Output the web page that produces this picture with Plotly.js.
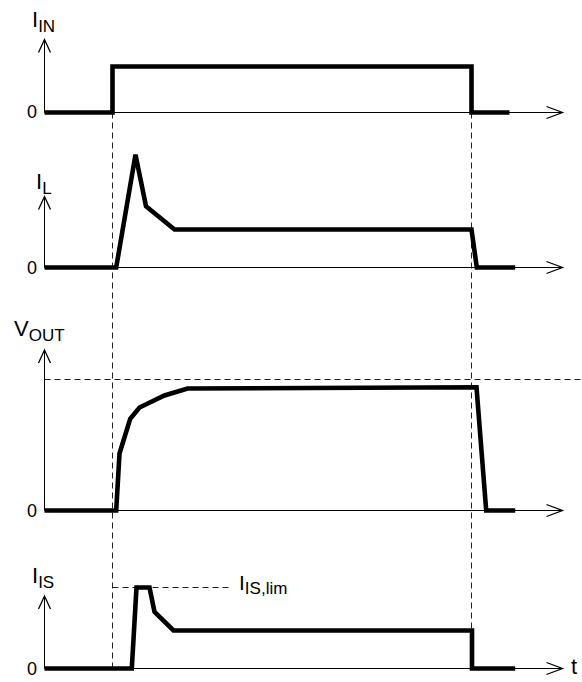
<!DOCTYPE html>
<html><head><meta charset="utf-8">
<script src="https://cdn.plot.ly/plotly-3.0.1.min.js"></script>
<style>html,body{margin:0;padding:0;background:#fff}</style>
</head><body><div id="chart" style="width:582px;height:682px"></div>
<script>
// ---- data (time in arbitrary units, each signal normalised) ----
const tIN  = [0, 6.8, 6.8, 42.7, 42.7, 46.5];
const iIN  = [0, 0, 1, 1, 0, 0];
const tL   = [0, 7.17, 9.1, 10.15, 13.0, 42.7, 43.23, 47.07];
const iL   = [0, 0, 2.97, 1.61, 1, 1, 0, 0];
const tOUT = [0, 7.17, 7.5, 8.57, 9.5, 12.0, 14.3, 43.2, 44.17, 47.07];
const vOUT = [0, 0, 0.435, 0.70, 0.786, 0.878, 0.931, 0.941, 0, 0];
const tIS  = [0, 8.73, 9.2, 10.5, 11.0, 12.9, 42.75, 42.75, 47.07];
const iIS  = [0, 0, 1, 1, 0.70, 0.47, 0.47, 0, 0];
const vOUTref = 1;   // regulated output level
const iISlim = 1;    // current-sense limit
const tOn = tIN[1];  // input switched on
const tOff = tIN[3]; // input switched off
const sub = s => '<sub><span style="font-size:17px">' + s + '</span></sub>';
const panelLabels = ['I' + sub('IN'), 'I' + sub('L'), 'V' + sub('OUT'), 'I' + sub('IS')];
const limLabel = 'I' + sub('IS,lim');
const zeroLabel = '0';
const timeLabel = 't';

// ---- geometry ----
const W = 582, H = 682;
const X0 = 44.5, XS = 10;          // px of t=0, px per time unit
const tAt = px => (px - X0) / XS;
const panels = [
  {zero: 112.5, unit: 46,  top: 20,  bot: 128, tip: 39.5, lab: [30, 22]},
  {zero: 267.5, unit: 38,  top: 135, bot: 285, tip: 196.5, lab: [34, 183]},
  {zero: 510.5, unit: 131, top: 295, bot: 530, tip: 350, lab: [12, 330]},
  {zero: 668.5, unit: 81,  top: 545, bot: 682, tip: 596, lab: [30, 577]}
];
const val = (p, px) => (p.zero - px) / p.unit;
const yPaper = (p, v) => 1 - (p.zero - v * p.unit) / H;
const FONT = 'Liberation Sans, Arial, Helvetica, sans-serif';

const series = [[tIN, iIN], [tL, iL], [tOUT, vOUT], [tIS, iIS]];
const traces = series.map((s, k) => ({
  x: s[0], y: s[1], type: 'scatter', mode: 'lines',
  xaxis: 'x', yaxis: k === 0 ? 'y' : 'y' + (k + 1),
  line: {color: '#000', width: 4.6}, hoverinfo: 'skip', showlegend: false
}));

const layout = {
  width: W, height: H, margin: {l: 0, r: 0, t: 0, b: 0},
  paper_bgcolor: '#fff', plot_bgcolor: 'rgba(0,0,0,0)', showlegend: false,
  xaxis: {range: [tAt(0), tAt(W)], domain: [0, 1], visible: false, fixedrange: true},
  shapes: [], annotations: []
};
panels.forEach((p, k) => {
  const name = k === 0 ? 'yaxis' : 'yaxis' + (k + 1);
  layout[name] = {domain: [1 - p.bot / H, 1 - p.top / H], range: [val(p, p.bot), val(p, p.top)],
                  visible: false, fixedrange: true, anchor: 'x'};
  const yr = k === 0 ? 'y' : 'y' + (k + 1);
  const tipT = tAt(562.5), tipV = val(p, p.tip);
  // horizontal axis
  layout.shapes.push({type: 'line', xref: 'x', yref: yr, x0: 0, x1: tipT, y0: 0, y1: 0,
                      line: {color: '#000', width: 1}});
  layout.shapes.push({type: 'path', xref: 'x', yref: yr, xsizemode: 'pixel', ysizemode: 'pixel',
                      xanchor: tipT, yanchor: 0, path: 'M-16,6L0,0L-16,-6',
                      line: {color: '#000', width: 1.3}});
  // vertical axis
  layout.shapes.push({type: 'line', xref: 'x', yref: yr, x0: 0, x1: 0, y0: 0, y1: tipV,
                      line: {color: '#000', width: 1}});
  layout.shapes.push({type: 'path', xref: 'x', yref: yr, xsizemode: 'pixel', ysizemode: 'pixel',
                      xanchor: 0, yanchor: tipV, path: 'M-6,-13L0,0L6,-13',
                      line: {color: '#000', width: 1.3}});
  // labels
  layout.annotations.push({xref: 'paper', yref: 'paper', x: p.lab[0] / W, y: 1 - p.lab[1] / H,
    xanchor: 'left', yanchor: 'middle', showarrow: false, text: panelLabels[k],
    font: {family: FONT, size: 22, color: '#000'}});
  layout.annotations.push({xref: 'paper', yref: 'paper', x: 38.5 / W, y: 1 - p.zero / H,
    xanchor: 'right', yanchor: 'middle', showarrow: false, text: zeroLabel,
    font: {family: FONT, size: 18, color: '#000'}});
});
const dash = {color: '#222', width: 1, dash: '6px,4px'};
const P = panels;
// vertical dashed guides at switch-on and switch-off
[tOn, tOff].forEach(t => layout.shapes.push({type: 'line', layer: 'below', xref: 'x', yref: 'paper',
  x0: t, x1: t, y0: yPaper(P[0], 0), y1: yPaper(P[3], 0), line: dash}));
// V_OUT regulated level
layout.shapes.push({type: 'line', layer: 'below', xref: 'x', yref: 'y3', x0: 0, x1: tAt(W),
  y0: vOUTref, y1: vOUTref, line: dash});
// I_IS limit
layout.shapes.push({type: 'line', layer: 'below', xref: 'x', yref: 'y4', x0: tOn, x1: tAt(231),
  y0: iISlim, y1: iISlim, line: dash});
layout.annotations.push({xref: 'paper', yref: 'paper', x: 237 / W, y: 1 - 584 / H,
  xanchor: 'left', yanchor: 'middle', showarrow: false, text: limLabel,
  font: {family: FONT, size: 21, color: '#000'}});
layout.annotations.push({xref: 'paper', yref: 'paper', x: 569 / W, y: 1 - 666 / H,
  xanchor: 'left', yanchor: 'middle', showarrow: false, text: timeLabel,
  font: {family: FONT, size: 22, color: '#000'}});

Plotly.newPlot('chart', traces, layout, {displayModeBar: false, staticPlot: true});
</script></body></html>
